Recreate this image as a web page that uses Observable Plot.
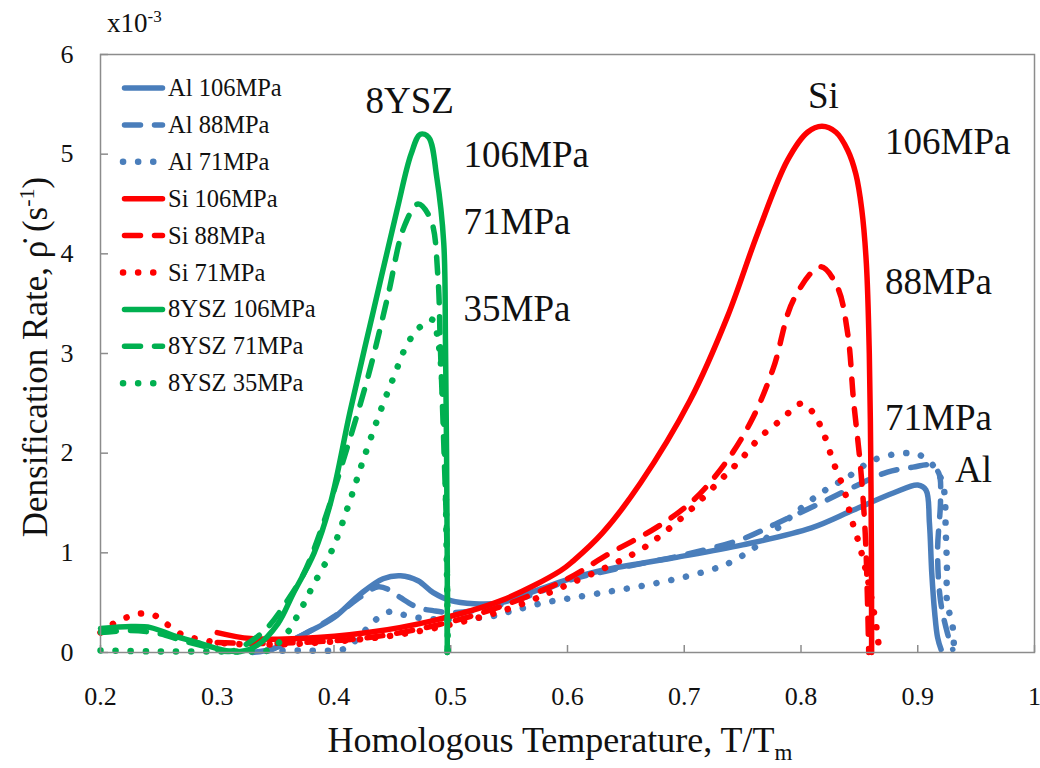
<!DOCTYPE html>
<html><head><meta charset="utf-8">
<script src="https://cdn.jsdelivr.net/npm/d3@7"></script>
<script src="https://cdn.jsdelivr.net/npm/@observablehq/plot@0.6"></script>
<style>body{margin:0;background:#fff} svg{display:block}</style>
</head><body><div id="chart"></div>
<script>
// ---- data (T/Tm, densification rate x10^-3 1/s) ----
const al106 = [[0.33,0.0],[0.348,0.04],[0.377,0.2],[0.4,0.35],[0.423,0.59],[0.442,0.74],[0.457,0.77],[0.472,0.72],[0.485,0.6],[0.5,0.52],[0.52,0.49],[0.543,0.5],[0.573,0.62],[0.6,0.73],[0.632,0.83],[0.691,0.95],[0.75,1.08],[0.809,1.25],[0.845,1.43],[0.879,1.6],[0.9,1.68],[0.907,1.63],[0.91,1.3],[0.912,0.8],[0.9145,0.4],[0.917,0.15],[0.92,0.03]];
const al88 = [[0.345,0.02],[0.377,0.2],[0.4,0.36],[0.423,0.56],[0.438,0.66],[0.447,0.63],[0.457,0.55],[0.472,0.45],[0.485,0.42],[0.5,0.4],[0.52,0.42],[0.54,0.47],[0.57,0.58],[0.6,0.72],[0.65,0.86],[0.7,0.98],[0.75,1.14],[0.78,1.3],[0.817,1.5],[0.845,1.66],[0.874,1.81],[0.896,1.86],[0.911,1.88],[0.918,1.8],[0.9195,1.53],[0.917,1.02],[0.9195,0.52],[0.9255,0.19],[0.93,0.03]];
const al71 = [[0.33,0.02],[0.37,0.02],[0.41,0.04],[0.42,0.14],[0.429,0.25],[0.437,0.34],[0.448,0.41],[0.459,0.38],[0.472,0.35],[0.49,0.33],[0.508,0.34],[0.534,0.36],[0.547,0.4],[0.56,0.44],[0.58,0.5],[0.6,0.54],[0.63,0.6],[0.66,0.66],[0.69,0.73],[0.72,0.82],[0.737,0.89],[0.76,1.05],[0.79,1.35],[0.817,1.6],[0.84,1.76],[0.862,1.93],[0.888,2.0],[0.902,1.98],[0.915,1.85],[0.922,1.66],[0.924,1.2],[0.925,0.85],[0.925,0.52],[0.93,0.25],[0.931,0.03]];
const si106 = [[0.3,0.2],[0.3285,0.14],[0.371,0.14],[0.429,0.2],[0.485,0.32],[0.543,0.52],[0.594,0.82],[0.605,0.92],[0.63,1.2],[0.6625,1.7],[0.705,2.53],[0.737,3.37],[0.763,4.21],[0.7885,4.94],[0.8056,5.22],[0.818,5.28],[0.83,5.22],[0.84,5.04],[0.847,4.8],[0.852,4.45],[0.856,3.9],[0.8585,3.0],[0.8597,2.0],[0.8603,1.0],[0.8605,0.0]];
const si88 = [[0.3,0.1],[0.33,0.09],[0.37,0.1],[0.43,0.15],[0.49,0.28],[0.54,0.45],[0.6,0.74],[0.634,0.98],[0.677,1.26],[0.708,1.53],[0.737,1.93],[0.759,2.36],[0.7765,2.86],[0.7936,3.54],[0.8167,3.87],[0.831,3.67],[0.84,3.2],[0.845,2.53],[0.851,1.86],[0.855,1.2],[0.857,0.5],[0.858,0.0]];
const si71 = [[0.2,0.2],[0.211,0.29],[0.222,0.35],[0.233,0.39],[0.245,0.38],[0.255,0.3],[0.27,0.18],[0.29,0.12],[0.31,0.09],[0.35,0.08],[0.4,0.11],[0.45,0.17],[0.5,0.28],[0.55,0.44],[0.6,0.68],[0.6625,1.03],[0.6856,1.23],[0.708,1.46],[0.731,1.73],[0.748,1.93],[0.765,2.16],[0.7825,2.33],[0.801,2.5],[0.8107,2.4],[0.8193,2.2],[0.828,1.9],[0.837,1.63],[0.843,1.35],[0.85,1.08],[0.856,0.8],[0.861,0.5],[0.865,0.22],[0.867,0.02]];
const ysz106 = [[0.2,0.24],[0.226,0.26],[0.243,0.25],[0.2625,0.17],[0.286,0.09],[0.303,0.03],[0.32,0.01],[0.334,0.07],[0.352,0.29],[0.365,0.59],[0.383,1.0],[0.397,1.5],[0.414,2.43],[0.434,3.44],[0.454,4.44],[0.466,5.0],[0.474,5.2],[0.481,5.17],[0.488,4.77],[0.494,4.11],[0.4955,3.1],[0.497,0.92],[0.497,0]];
const ysz71 = [[0.2,0.2],[0.226,0.22],[0.25,0.19],[0.27,0.12],[0.29,0.06],[0.31,0.01],[0.326,0.09],[0.343,0.25],[0.36,0.52],[0.374,0.79],[0.391,1.3],[0.408,1.93],[0.429,2.76],[0.446,3.57],[0.46,4.27],[0.472,4.5],[0.483,4.34],[0.489,3.77],[0.491,3.1],[0.494,2.1],[0.497,0.9],[0.497,0]];
const ysz35 = [[0.2,0.02],[0.25,0.01],[0.3,0.01],[0.33,0.01],[0.343,0.02],[0.357,0.15],[0.371,0.42],[0.382,0.67],[0.395,0.95],[0.401,1.1],[0.413,1.5],[0.425,1.93],[0.44,2.43],[0.451,2.76],[0.463,3.1],[0.474,3.27],[0.484,3.34],[0.4895,3.1],[0.494,2.43],[0.4965,1.0],[0.4975,0]];

const seriesNames = ["Al 106MPa","Al 88MPa","Al 71MPa","Si 106MPa","Si 88MPa","Si 71MPa","8YSZ 106MPa","8YSZ 71MPa","8YSZ 35MPa"];
const seriesValues = [al106, al88, al71, si106, si88, si71, ysz106, ysz71, ysz35];
const seriesColors = ["#4a7ebb","#4a7ebb","#4a7ebb","#ff0000","#ff0000","#ff0000","#00b050","#00b050","#00b050"];
const seriesStyles = ["solid","dash","dot","solid","dash","dot","solid","dash","dot"];

const xTicks = [0.2,0.3,0.4,0.5,0.6,0.7,0.8,0.9,1];
const xTickLabels = ["0.2","0.3","0.4","0.5","0.6","0.7","0.8","0.9","1"];
const yTicks = [0,1,2,3,4,5,6];
const yTickLabels = ["0","1","2","3","4","5","6"];

const annoText = ["8YSZ","106MPa","71MPa","35MPa","Si","106MPa","88MPa","71MPa","Al"];
const annoX = [0.427,0.511,0.511,0.511,0.806,0.872,0.872,0.872,0.932];
const annoY = [5.53,4.99,4.32,3.44,5.58,5.12,3.72,2.35,1.83];

// ---- build ----
const dashOf = s => s === "dash" ? "16,14" : s === "dot" ? "0.1,15" : null;
const widthOf = s => s === "dot" ? 6.5 : 5.5;
const rows = seriesNames.flatMap((name, i) => seriesValues[i].map(([x, y]) => ({series: name, x, y})));
const annos = annoText.map((t, i) => ({t, x: annoX[i], y: annoY[i]}));
const FONT = "'Liberation Serif', 'Times New Roman', serif";
const GREY = "#8c8c8c";

const lineMarks = seriesNames.map((name, i) => Plot.line(rows.filter(d => d.series === name), {
  x: "x", y: "y", stroke: seriesColors[i], strokeWidth: widthOf(seriesStyles[i]),
  strokeDasharray: dashOf(seriesStyles[i]), strokeLinecap: "round", strokeLinejoin: "round",
  curve: "catmull-rom"
}));

const svg = Plot.plot({
  width: 1040, height: 768,
  marginLeft: 100, marginRight: 6, marginTop: 54, marginBottom: 116,
  x: {domain: [0.2, 1]},
  y: {domain: [0, 6]},
  style: {fontFamily: FONT, fontSize: "26px", color: "#111", background: "#fff"},
  marks: [
    Plot.axisY(yTicks, {tickSize: 8, dx: 8, stroke: GREY, strokeWidth: 1.5, fill: "none", label: null}),
    Plot.axisY(yTicks, {tickSize: 0, tickPadding: 27, label: null, fontSize: 26, fill: "#111",
      tickFormat: d => yTickLabels[yTicks.indexOf(d)]}),
    Plot.axisX(xTicks, {tickSize: 7, dy: -7, stroke: GREY, strokeWidth: 1.5, fill: "none", label: null}),
    Plot.axisX(xTicks, {tickSize: 0, tickPadding: 34, label: null, fontSize: 26, fill: "#111",
      tickFormat: d => xTickLabels[xTicks.indexOf(d)]}),
    ...lineMarks,
    Plot.frame({stroke: GREY, strokeWidth: 1.5}),
    Plot.text(annos, {x: "x", y: "y", text: "t", textAnchor: "start", lineAnchor: "middle",
      fontSize: 37, fontFamily: FONT, fill: "#111"})
  ]
});
document.getElementById("chart").appendChild(svg);

// ---- extra texts & legend ----
const s = d3.select(svg);
const g = s.append("g").attr("font-family", FONT).attr("fill", "#111").attr("text-anchor", "start");

// x10^-3
const mult = g.append("text").attr("x", 107).attr("y", 32).attr("font-size", 27);
mult.append("tspan").text("x10");
mult.append("tspan").attr("font-size", 17).attr("dy", -10).text("-3");

// y label
const yl = g.append("text").attr("transform", "translate(47,357) rotate(-90)")
  .attr("text-anchor", "middle").attr("font-size", 35);
yl.append("tspan").text("Densification Rate, \u03C1\u0307 (s");
yl.append("tspan").attr("font-size", 22).attr("dy", -13).text("-1");
yl.append("tspan").attr("dy", 13).text(")");

// x label
const xl = g.append("text").attr("x", 560).attr("y", 752).attr("text-anchor", "middle").attr("font-size", 36);
xl.append("tspan").text("Homologous Temperature, T/T");
xl.append("tspan").attr("font-size", 23).attr("dy", 8).text("m");

// legend
const lg = g.append("g");
seriesNames.forEach((name, i) => {
  const cy = 88 + i * 36.9;
  const st = seriesStyles[i];
  const x1 = st === "dot" ? 123 : 124.5, x2 = st === "dot" ? 160 : 162.5;
  lg.append("line").attr("x1", x1).attr("x2", x2).attr("y1", cy).attr("y2", cy)
    .attr("stroke", seriesColors[i]).attr("stroke-width", widthOf(st))
    .attr("stroke-linecap", "round").attr("stroke-dasharray", dashOf(st));
  lg.append("text").attr("x", 168).attr("y", cy + 8).attr("font-size", 24.5).text(name);
});
</script></body></html>
